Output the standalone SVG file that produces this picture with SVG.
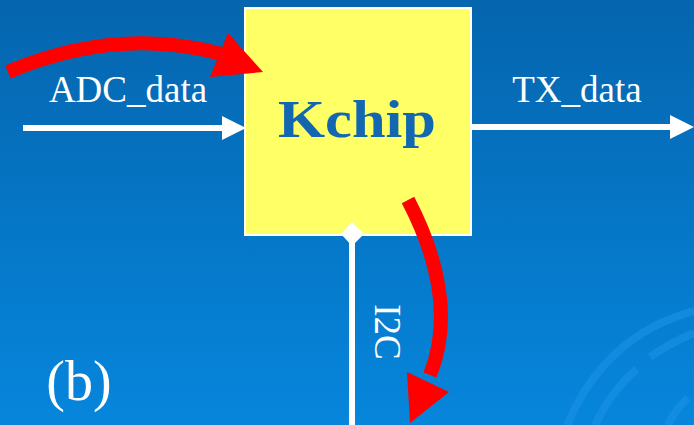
<svg xmlns="http://www.w3.org/2000/svg" width="694" height="425" viewBox="0 0 694 425">
<defs>
<linearGradient id="bg" x1="0" y1="0" x2="0" y2="1">
<stop offset="0" stop-color="#0565AE"/>
<stop offset="1" stop-color="#0686DC"/>
</linearGradient>
</defs>
<style>
.w{stroke:#fff;stroke-width:6;fill:none}
.red{stroke:#f00;stroke-width:14;fill:none}
.lbl{font-family:"Liberation Serif","Times New Roman",serif;fill:#fff;font-size:37px}
.big{font-size:56px}
</style>
<rect width="694" height="425" fill="url(#bg)"/>
<g fill="none" stroke="#1890e4" stroke-width="8" opacity="0.7">
<path d="M567,425 Q605,335 694,311"/>
<path d="M595,425 Q612,390 637,369"/>
<path d="M650,357 Q670,343 694,333"/>
<path d="M668,425 Q676,408 688,398"/>
</g>
<g id="kchip">
<rect x="245" y="8" width="226" height="227" fill="#FFFF66" stroke="#fff" stroke-width="2"/>
<text x="357" y="137" text-anchor="middle" font-family="Liberation Serif,serif" font-weight="bold" font-size="53" fill="#1267B0" textLength="158" lengthAdjust="spacingAndGlyphs">Kchip</text>
</g>
<g id="connectors">
<line x1="23" y1="128" x2="224" y2="128" class="w"/>
<path d="M222,116 L246,128 L222,140 z" fill="#fff"/>
<line x1="471" y1="127" x2="673" y2="127" class="w"/>
<path d="M670,115 L694,127 L670,139 z" fill="#fff"/>
<line x1="352" y1="240" x2="352" y2="425" class="w"/>
<path d="M352,222 L364,234 L352,246 L341,234 z" fill="#fff"/>
</g>
<g id="labels">
<text x="128" y="102" text-anchor="middle" class="lbl">ADC_data</text>
<text x="577" y="102" text-anchor="middle" class="lbl">TX_data</text>
<text transform="translate(375,332) rotate(90)" text-anchor="middle" class="lbl">I2C</text>
<text x="79" y="400" text-anchor="middle" class="lbl big">(b)</text>
</g>
<g id="red-arrows">
<path d="M8,72 Q120,25 225,55" class="red"/>
<path d="M228,33 L263,72 L210,77 z" fill="#f00"/>
<path d="M408,200 Q460,300 430,375" class="red"/>
<path d="M407,372 L410,423 L449,392 z" fill="#f00"/>
</g>
</svg>
